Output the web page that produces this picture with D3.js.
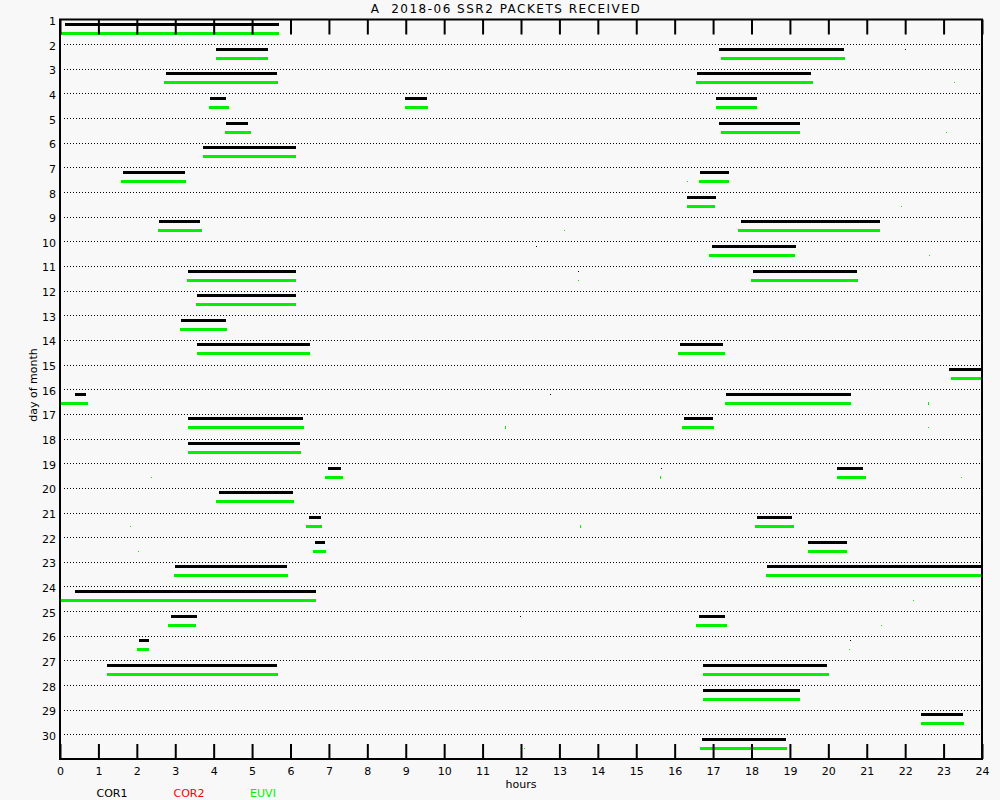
<!DOCTYPE html>
<html>
<head>
<meta charset="utf-8">
<script src="https://cdn.jsdelivr.net/npm/d3@7"></script>
<style>
  html, body { margin: 0; padding: 0; background: #f8f8f8; }
  svg { display: block; }
  text { font-family: "DejaVu Sans", sans-serif; }
</style>
</head>
<body>
<script>
// ---- data ----
const days = d3.range(1, 31);
const hourTicks = d3.range(0, 25);
const titleText = "A  2018-06 SSR2 PACKETS RECEIVED";
const legendNames = ["COR1", "COR2", "EUVI"];
const legendColors = ["#000000", "#ff0000", "#00f000"];

// [day, startHour, endHour]  (start == end: a single packet dot)
const cor1Segments = [
  [1, 0.13, 5.70],
  [2, 4.06, 5.41], [2, 17.16, 20.42], [2, 22.0, 22.0],
  [3, 2.76, 5.64], [3, 16.59, 19.56],
  [4, 3.91, 4.32], [4, 8.98, 9.56], [4, 17.08, 18.15],
  [5, 4.32, 4.90], [5, 17.16, 19.27],
  [6, 3.72, 6.15],
  [7, 1.64, 3.26], [7, 16.67, 17.42],
  [8, 16.33, 17.08],
  [9, 2.58, 3.65], [9, 17.73, 21.35],
  [10, 12.40, 12.40], [10, 16.98, 19.17],
  [11, 3.33, 6.15], [11, 13.49, 13.49], [11, 18.05, 20.76],
  [12, 3.57, 6.15],
  [13, 3.15, 4.32],
  [14, 3.57, 6.51], [14, 16.15, 17.27],
  [15, 23.15, 23.98],
  [16, 0.39, 0.68], [16, 12.76, 12.76], [16, 17.34, 20.60],
  [17, 3.33, 6.33], [17, 16.25, 17.00],
  [18, 3.33, 6.25],
  [19, 6.98, 7.32], [19, 15.65, 15.65], [19, 20.23, 20.91],
  [20, 4.14, 6.07],
  [21, 6.48, 6.80], [21, 18.15, 19.06],
  [22, 6.64, 6.90], [22, 19.48, 20.50],
  [23, 2.99, 5.91], [23, 18.41, 23.98],
  [24, 0.39, 6.67],
  [25, 2.89, 3.57], [25, 11.98, 11.98], [25, 16.64, 17.32],
  [26, 2.06, 2.32], [26, 20.57, 20.57],
  [27, 1.22, 5.65], [27, 16.74, 19.97],
  [28, 16.74, 19.27],
  [29, 22.40, 23.49],
  [30, 16.72, 18.91]
];

const cor2Segments = [];

const euviSegments = [
  [1, 0.00, 5.70],
  [2, 4.06, 5.41], [2, 17.21, 20.44],
  [3, 2.71, 5.68], [3, 16.56, 19.61], [3, 23.26, 23.26],
  [4, 3.88, 4.40], [4, 8.98, 9.58], [4, 17.08, 18.15],
  [5, 4.30, 4.97], [5, 17.21, 19.27], [5, 23.05, 23.05],
  [6, 3.72, 6.15],
  [7, 1.59, 3.28], [7, 16.33, 16.33], [7, 16.64, 17.42],
  [8, 16.33, 17.06], [8, 21.88, 21.88],
  [9, 2.55, 3.70], [9, 13.13, 13.13], [9, 17.66, 21.35],
  [10, 16.90, 19.14], [10, 22.63, 22.63],
  [11, 3.31, 6.15], [11, 13.49, 13.49], [11, 17.99, 20.78],
  [12, 3.55, 6.15],
  [13, 3.13, 4.35],
  [14, 3.57, 6.51], [14, 16.09, 17.32],
  [15, 23.20, 24.00],
  [16, 0.00, 0.73], [16, 17.32, 20.60], [16, 22.60, 22.61],
  [17, 3.33, 6.35], [17, 11.59, 11.60], [17, 16.20, 17.03], [17, 22.60, 22.60],
  [18, 3.33, 6.28],
  [19, 2.37, 2.37], [19, 6.90, 7.37], [19, 15.63, 15.64], [19, 20.23, 20.99], [19, 23.46, 23.46],
  [20, 4.06, 6.09],
  [21, 1.82, 1.82], [21, 6.41, 6.82], [21, 13.54, 13.55], [21, 18.10, 19.11],
  [22, 2.03, 2.03], [22, 6.59, 6.93], [22, 19.48, 20.50],
  [23, 2.97, 5.94], [23, 18.38, 23.98],
  [24, 0.00, 6.67], [24, 22.21, 22.21],
  [25, 2.81, 3.54], [25, 16.56, 17.37], [25, 21.38, 21.38],
  [26, 2.01, 2.32], [26, 20.55, 20.55],
  [27, 1.22, 5.68], [27, 16.74, 20.03],
  [28, 16.74, 19.27],
  [29, 22.40, 23.52],
  [30, 12.08, 12.08], [30, 16.67, 18.93]
];

// ---- layout ----
const W = 1000, H = 800;
const plotLeft = 60, plotRight = 982, plotTop = 19.5, plotBottom = 759;

const svg = d3.select("body").append("svg")
  .attr("width", W).attr("height", H);

svg.append("rect").attr("width", W).attr("height", H).attr("fill", "#f8f8f8");

const x = d3.scaleLinear().domain([0, 24]).range([plotLeft, plotRight]);
const y = d3.scaleLinear().domain([1, 31]).range([plotTop, plotBottom]);

// dotted grid lines per day (day 1 coincides with top axis)
svg.append("g").selectAll("line")
  .data(days.filter(d => d > 1))
  .join("line")
  .attr("x1", 64).attr("x2", 980)
  .attr("y1", d => Math.round(y(d)) + 0.5)
  .attr("y2", d => Math.round(y(d)) + 0.5)
  .attr("stroke", "#000")
  .attr("stroke-width", 1)
  .attr("stroke-dasharray", "1,2");

// bars
const series = [
  { segs: cor1Segments, color: legendColors[0], off: 3.5 },
  { segs: cor2Segments, color: legendColors[1], off: 8 },
  { segs: euviSegments, color: legendColors[2], off: 12.5 }
];
series.forEach(s => {
  svg.append("g").selectAll("rect")
    .data(s.segs)
    .join("rect")
    .attr("x", d => Math.round(x(d[1])))
    .attr("width", d => Math.max(1, Math.round(x(d[2]) - x(d[1]))))
    .attr("y", d => d[2] === d[1] ? Math.round(y(d[0]) + s.off) + 1 : Math.round(y(d[0]) + s.off))
    .attr("height", d => d[2] === d[1] ? 1 : 3)
    .attr("fill", s.color)
    .attr("shape-rendering", "crispEdges");
});

// axes
const bottomAxis = d3.axisBottom(x).tickValues(hourTicks).tickSize(-15).tickPadding(8)
  .tickFormat(d3.format("d"));
const gB = svg.append("g").attr("transform", `translate(0,${plotBottom})`).call(bottomAxis);
gB.select(".domain").remove();
gB.selectAll("line").attr("stroke", "#000").attr("stroke-width", 2);
gB.selectAll("text").attr("font-size", 11).attr("fill", "#000");

const topAxis = d3.axisTop(x).tickValues(hourTicks).tickSize(-15).tickFormat("");
const gT = svg.append("g").attr("transform", `translate(0,${plotTop})`).call(topAxis);
gT.select(".domain").remove();
gT.selectAll("line").attr("stroke", "#000").attr("stroke-width", 2);

const leftAxis = d3.axisLeft(y).tickValues(days).tickSize(0).tickPadding(4)
  .tickFormat(d3.format("d"));
const gL = svg.append("g").attr("transform", `translate(${plotLeft},0)`).call(leftAxis);
gL.select(".domain").remove();
gL.selectAll("text").attr("font-size", 11).attr("fill", "#000").attr("dy", "0.45em");

// frame
svg.append("rect")
  .attr("x", plotLeft).attr("y", plotTop)
  .attr("width", plotRight - plotLeft).attr("height", plotBottom - plotTop)
  .attr("fill", "none").attr("stroke", "#000").attr("stroke-width", 2);

// title
svg.append("text")
  .attr("x", 506).attr("y", 13)
  .attr("text-anchor", "middle")
  .attr("font-size", 12)
  .attr("letter-spacing", 1.5)
  .style("white-space", "pre")
  .text(titleText);

// axis titles
svg.append("text")
  .attr("x", 521).attr("y", 788)
  .attr("text-anchor", "middle")
  .attr("font-size", 11)
  .text("hours");

svg.append("text")
  .attr("transform", "translate(37,385) rotate(-90)")
  .attr("text-anchor", "middle")
  .attr("font-size", 11)
  .text("day of month");

// legend
const legendX = [112, 189, 263];
svg.append("g").selectAll("text")
  .data(legendNames)
  .join("text")
  .attr("x", (d, i) => legendX[i])
  .attr("y", 797)
  .attr("text-anchor", "middle")
  .attr("font-size", 11)
  .attr("fill", (d, i) => legendColors[i])
  .text(d => d);
</script>
</body>
</html>
